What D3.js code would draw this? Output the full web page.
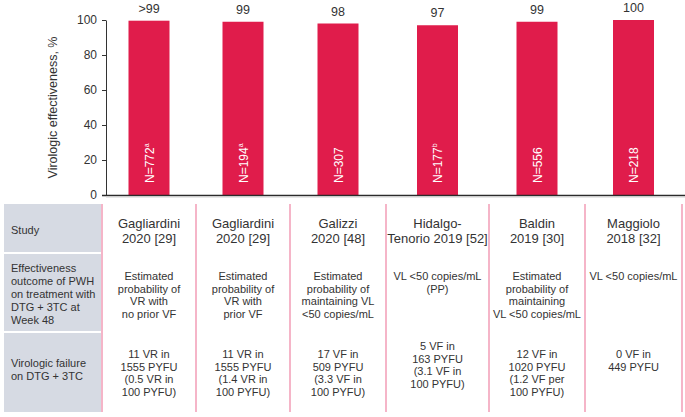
<!DOCTYPE html>
<html>
<head>
<meta charset="utf-8">
<script src="https://cdn.jsdelivr.net/npm/d3@7"></script>
<style>
  html, body { margin: 0; padding: 0; background: #fff; }
  svg { display: block; font-family: "Liberation Sans", Arial, sans-serif; }
</style>
</head>
<body>
<svg id="chart" width="685" height="417"></svg>
<script>
// ---- data ----
const studies = ["Gagliardini 2020 a", "Gagliardini 2020 b", "Galizzi 2020", "Hidalgo-Tenorio 2019", "Baldin 2019", "Maggiolo 2018"];
const values = [99.6, 99, 98, 97, 99, 100];
const valueLabels = [">99", "99", "98", "97", "99", "100"];
const nLabels = ["772", "194", "307", "177", "556", "218"];
const nSups = ["a", "a", "", "b", "", ""];
const yTicks = [0, 20, 40, 60, 80, 100];
const yTitle = "Virologic effectiveness, %";

const rowLabels = [
  ["Study"],
  ["Effectiveness", "outcome of PWH", "on treatment with", "DTG + 3TC at", "Week 48"],
  ["Virologic failure", "on DTG + 3TC"]
];
const studyNames = [
  ["Gagliardini", "2020 [29]"],
  ["Gagliardini", "2020 [29]"],
  ["Galizzi", "2020 [48]"],
  ["Hidalgo-", "Tenorio 2019 [52]"],
  ["Baldin", "2019 [30]"],
  ["Maggiolo", "2018 [32]"]
];
const outcomes = [
  ["Estimated", "probability of", "VR with", "no prior VF"],
  ["Estimated", "probability of", "VR with", "prior VF"],
  ["Estimated", "probability of", "maintaining VL", "<50 copies/mL"],
  ["VL <50 copies/mL", "(PP)"],
  ["Estimated", "probability of", "maintaining", "VL <50 copies/mL"],
  ["VL <50 copies/mL"]
];
const failures = [
  ["11 VR in", "1555 PYFU", "(0.5 VR in", "100 PYFU)"],
  ["11 VR in", "1555 PYFU", "(1.4 VR in", "100 PYFU)"],
  ["17 VF in", "509 PYFU", "(3.3 VF in", "100 PYFU)"],
  ["5 VF in", "163 PYFU", "(3.1 VF in", "100 PYFU)"],
  ["12 VF in", "1020 PYFU", "(1.2 VF per", "100 PYFU)"],
  ["0 VF in", "449 PYFU"]
];

// ---- layout ----
const colEdges = [102, 196, 290, 386, 489, 585, 682];
const failureDy = [0, 0, 0, -8, 0, 0];
const barColor = "#e01c4b";
const textColor = "#333333";
const greyCol = "#d6dae3";
const pink = "#f5b5c8";

const svg = d3.select("#chart");

const centers = studies.map((d, i) => (colEdges[i] + colEdges[i + 1]) / 2);
const x = d3.scaleOrdinal().domain(studies).range(centers);
const barW = 41;
const y = d3.scaleLinear().domain([0, 100]).range([195, 20]);

// y title
svg.append("text")
  .attr("transform", `translate(57,${(y(0) + y(100)) / 2}) rotate(-90)`)
  .attr("text-anchor", "middle")
  .attr("font-size", 12.5)
  .attr("fill", textColor)
  .text(yTitle);

// y axis
const yAxis = svg.append("g")
  .attr("transform", "translate(106,0)")
  .call(d3.axisLeft(y).tickValues(yTicks).tickSize(4).tickSizeOuter(0).tickPadding(5));
yAxis.selectAll("text").attr("font-size", 12).attr("fill", textColor).attr("font-family", "Liberation Sans, Arial, sans-serif");
yAxis.selectAll("line").attr("stroke", textColor);
yAxis.select(".domain").attr("stroke", textColor);

// bars
svg.selectAll("rect.bar").data(studies).join("rect")
  .attr("class", "bar")
  .attr("x", d => x(d) - barW / 2)
  .attr("width", barW)
  .attr("y", (d, i) => y(values[i]))
  .attr("height", (d, i) => y(0) - y(values[i]))
  .attr("fill", barColor);

// value labels
svg.selectAll("text.val").data(studies).join("text")
  .attr("class", "val")
  .attr("x", d => x(d))
  .attr("y", (d, i) => y(values[i]) - 8)
  .attr("text-anchor", "middle")
  .attr("font-size", 12.5)
  .attr("fill", textColor)
  .text((d, i) => valueLabels[i]);

// N labels
const nl = svg.selectAll("text.n").data(studies).join("text")
  .attr("class", "n")
  .attr("transform", d => `translate(${x(d) + 4.5},183) rotate(-90)`)
  .attr("font-size", 12)
  .attr("fill", "#ffffff");
nl.append("tspan").text((d, i) => "N=" + nLabels[i]);
nl.append("tspan").attr("font-size", 7).attr("dy", -5).text((d, i) => nSups[i]);

// baseline
svg.append("line").attr("x1", 102).attr("x2", 685).attr("y1", 195.5).attr("y2", 195.5)
  .attr("stroke", "#2b2b2b").attr("stroke-width", 1.3);
svg.append("line").attr("x1", 106).attr("x2", 685).attr("y1", 197).attr("y2", 197)
  .attr("stroke", "#cfcfcf").attr("stroke-width", 1);

// table grey label column
const rowSpans = [[204, 252], [254, 331], [333, 412]];
svg.selectAll("rect.grey").data(rowSpans).join("rect")
  .attr("class", "grey")
  .attr("x", 4).attr("width", 97)
  .attr("y", d => d[0]).attr("height", d => d[1] - d[0])
  .attr("fill", greyCol);

// pink dividers
svg.selectAll("line.div").data(colEdges).join("line")
  .attr("class", "div")
  .attr("x1", d => d).attr("x2", d => d)
  .attr("y1", 204).attr("y2", 412)
  .attr("stroke", pink).attr("stroke-width", 2);

function lines(g, arr, x0, y0, lh, anchor, size) {
  const t = g.append("text")
    .attr("text-anchor", anchor)
    .attr("font-size", size)
    .attr("fill", textColor);
  arr.forEach((s, i) => t.append("tspan").attr("x", x0).attr("y", y0 + i * lh).text(s));
}

const tbl = svg.append("g");
// row labels
lines(tbl, rowLabels[0], 11, 234, 13, "start", 11);
lines(tbl, rowLabels[1], 11, 272, 13, "start", 11);
lines(tbl, rowLabels[2], 11, 367, 13, "start", 11);

studies.forEach((s, i) => {
  const cx = x(s);
  lines(tbl, studyNames[i], cx, 227.5, 15, "middle", 13);
  lines(tbl, outcomes[i], cx, 280, 12.5, "middle", 11);
  lines(tbl, failures[i], cx, 358 + failureDy[i], 12.5, "middle", 11);
});
</script>
</body>
</html>
